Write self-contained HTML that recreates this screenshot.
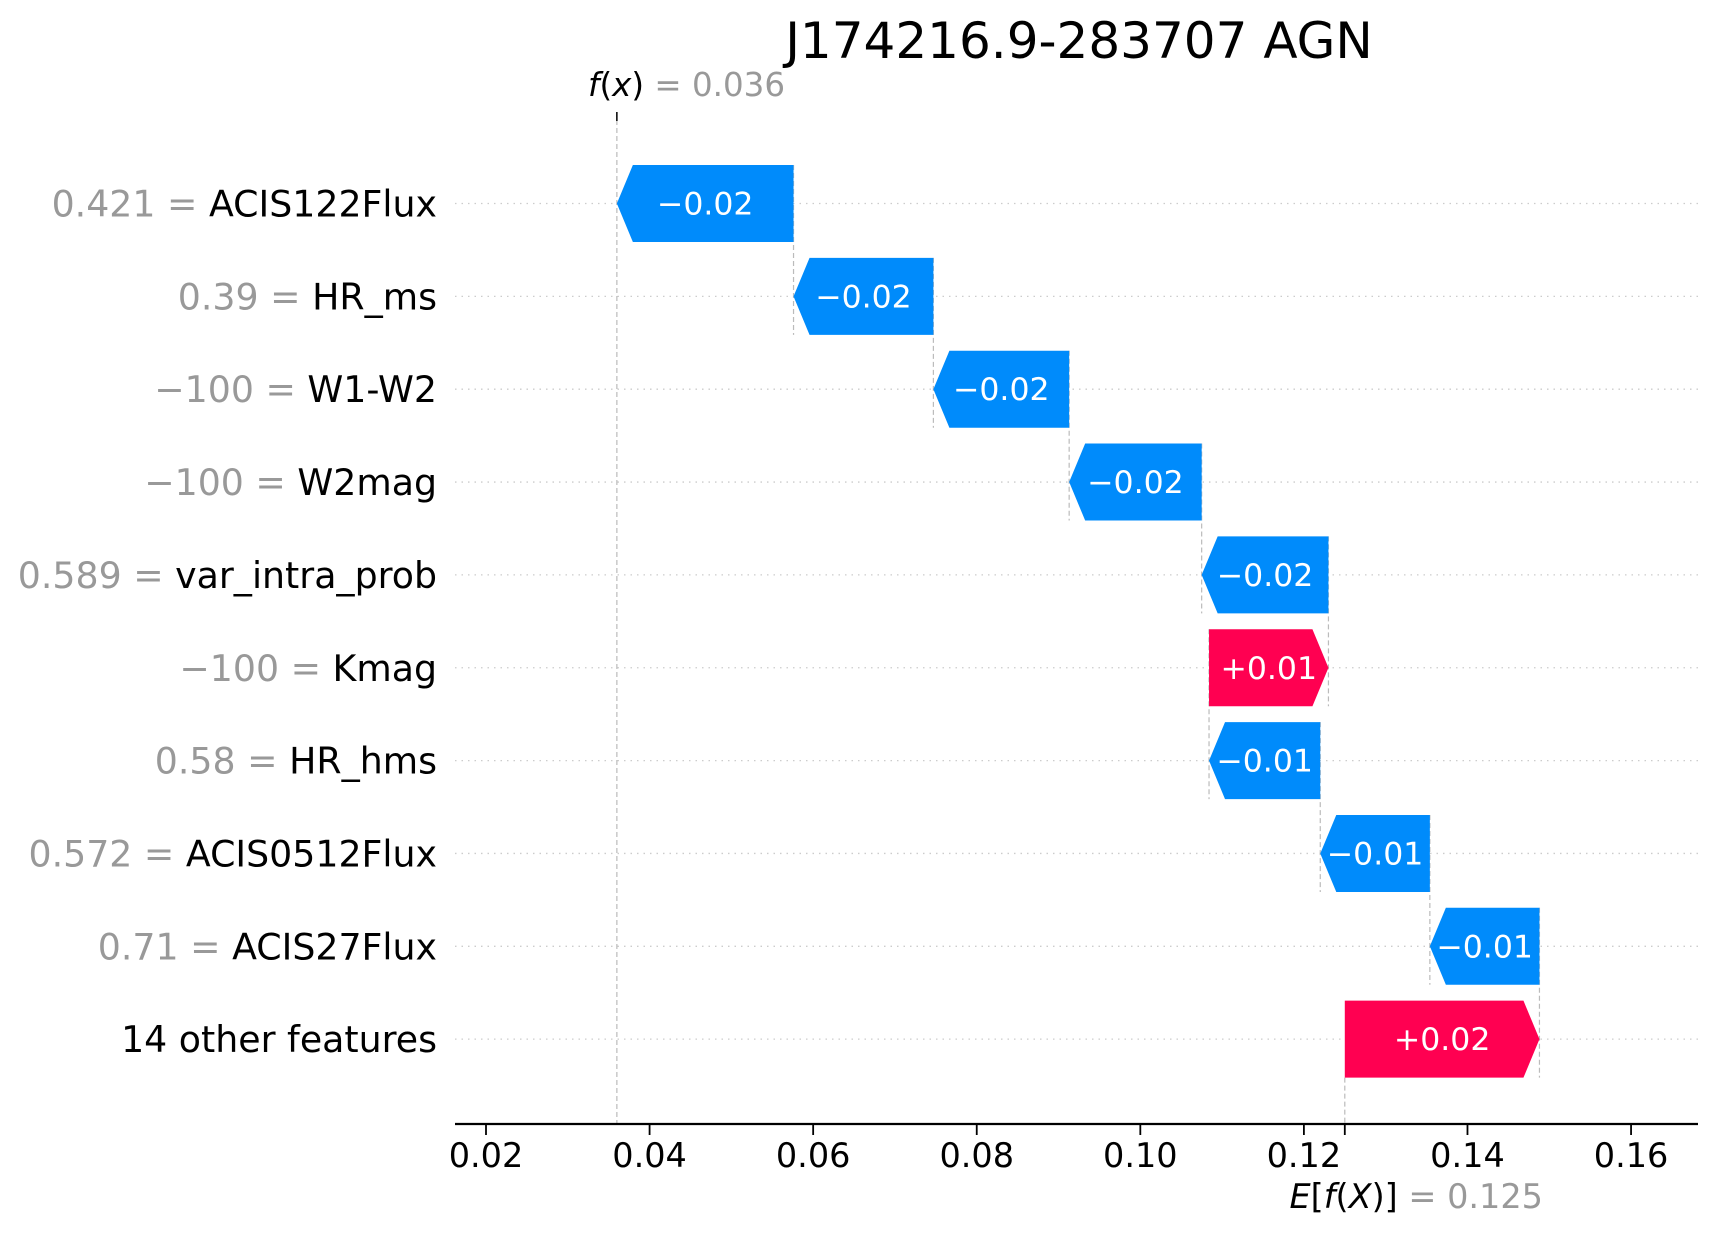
<!DOCTYPE html>
<html><head><meta charset="utf-8"><style>
body{margin:0;background:#fff}
svg{display:block;font-family:"DejaVu Sans","Liberation Sans",sans-serif}
</style></head><body>
<svg id="chart" width="1716" height="1236" viewBox="0 0 1716 1236" xmlns="http://www.w3.org/2000/svg">
<text x="1079" y="58" font-size="50" text-anchor="middle" fill="#000">J174216.9-283707 AGN</text>
<g id="grid"></g><g id="conn"></g><g id="bars"></g><g id="labels"></g><g id="axis"></g>
</svg>
<script>
const features = ["ACIS122Flux","HR_ms","W1-W2","W2mag","var_intra_prob","Kmag","HR_hms","ACIS0512Flux","ACIS27Flux","14 other features"];
const featureValues = ["0.421","0.39","\u2212100","\u2212100","0.589","\u2212100","0.58","0.572","0.71",""];
const shapValues = [-0.0216,-0.0171,-0.0166,-0.0162,-0.0155,0.0146,-0.0136,-0.0134,-0.0134,0.0238];
const barLabels = ["\u22120.02","\u22120.02","\u22120.02","\u22120.02","\u22120.02","+0.01","\u22120.01","\u22120.01","\u22120.01","+0.02"];
const baseValue = 0.125;
const fx = 0.036;
const ticks = [0.02,0.04,0.06,0.08,0.10,0.12,0.14,0.16];
const tickLabels = ["0.02","0.04","0.06","0.08","0.10","0.12","0.14","0.16"];

const NS="http://www.w3.org/2000/svg";
const X=v=>486+(v-0.02)*8179;
const Y=i=>203.5+i*92.85;
const H=77, AX=1124, L=455, R=1698;
function mk(t,a,p){const e=document.createElementNS(NS,t);for(const k in a)e.setAttribute(k,a[k]);document.getElementById(p).appendChild(e);return e;}
const n=features.length;
const start=new Array(n), end=new Array(n);
let cur=baseValue;
for(let i=n-1;i>=0;i--){start[i]=cur;end[i]=cur+shapValues[i];cur=end[i];}
for(let i=0;i<n;i++){
  const g=mk('line',{x1:L,x2:R,y1:Y(i),y2:Y(i),stroke:'#ccc','stroke-width':1.3,'stroke-dasharray':'1.5 5'},'grid');
  
  
}
for(let i=0;i<n-1;i++){
  const c=mk('line',{x1:X(start[i]),x2:X(start[i]),y1:Y(i)-H/2,y2:Y(i+1)+H/2,stroke:'#bbb','stroke-width':1.2,'stroke-dasharray':'5 3'},'conn');
  
  
}
const fl=mk('line',{x1:X(fx),x2:X(fx),y1:112,y2:AX,stroke:'#bbb','stroke-width':1.2,'stroke-dasharray':'5 3'},'conn');


const el=mk('line',{x1:X(baseValue),x2:X(baseValue),y1:Y(n-1)+H/2,y2:AX,stroke:'#bbb','stroke-width':1.2,'stroke-dasharray':'5 3'},'conn');


const ft=mk('line',{x1:X(fx),x2:X(fx),y1:112,y2:121,stroke:'#000','stroke-width':1.5},'axis');


for(let i=0;i<n;i++){
  const y=Y(i), t=y-H/2, b=y+H/2, hw=16;
  let pts, col;
  if(shapValues[i]<0){
    const xl=X(end[i]), xr=X(start[i]);
    pts=`${xl},${y} ${xl+hw},${t} ${xr},${t} ${xr},${b} ${xl+hw},${b}`; col='#008bfb';
  } else {
    const xl=X(start[i]), xr=X(end[i]);
    pts=`${xl},${t} ${xr-hw},${t} ${xr},${y} ${xr-hw},${b} ${xl},${b}`; col='#ff0051';
  }
  const p=mk('polygon',{points:pts,fill:col},'bars');
  
  
  const cx=(X(start[i])+X(end[i]))/2;
  const tx=mk('text',{x:cx,y:y+11,'font-size':31.5,'text-anchor':'middle',fill:'#fff'},'bars');
  tx.textContent=barLabels[i];
  
  
  const lb=mk('text',{x:437,y:y+13,'font-size':36.3,'text-anchor':'end',fill:'#000'},'labels');
  
  
  if(featureValues[i]!==''){
    const s1=document.createElementNS(NS,'tspan');s1.setAttribute('fill','#999');s1.textContent=featureValues[i]+' = ';lb.appendChild(s1);
  }
  const s2=document.createElementNS(NS,'tspan');s2.textContent=features[i];lb.appendChild(s2);
}
const ax=mk('line',{x1:L,x2:R,y1:AX,y2:AX,stroke:'#000','stroke-width':2.2},'axis');


ticks.forEach((v,k)=>{
  const tk=mk('line',{x1:X(v),x2:X(v),y1:AX,y2:AX+11,stroke:'#000','stroke-width':1.8},'axis');
  
  
  const tl=mk('text',{x:X(v),y:1167,'font-size':33.5,'text-anchor':'middle',fill:'#000'},'axis');
  tl.textContent=tickLabels[k];
  
  
});
const et=mk('line',{x1:X(baseValue),x2:X(baseValue),y1:AX,y2:AX+11,stroke:'#000','stroke-width':1.8},'axis');


const eL=mk('text',{x:1543,y:1208,'font-size':33.5,'text-anchor':'end',fill:'#000'},'axis');


eL.innerHTML='<tspan font-style="italic">E</tspan>[<tspan font-style="italic">f</tspan>(<tspan font-style="italic">X</tspan>)] <tspan fill="#999">= '+baseValue.toFixed(3)+'</tspan>';
const fL=mk('text',{x:588,y:96,'font-size':32.5,'text-anchor':'start',fill:'#000'},'axis');


fL.innerHTML='<tspan font-style="italic">f</tspan>(<tspan font-style="italic">x</tspan>) <tspan fill="#999">= '+fx.toFixed(3)+'</tspan>';
</script>
</body></html>
